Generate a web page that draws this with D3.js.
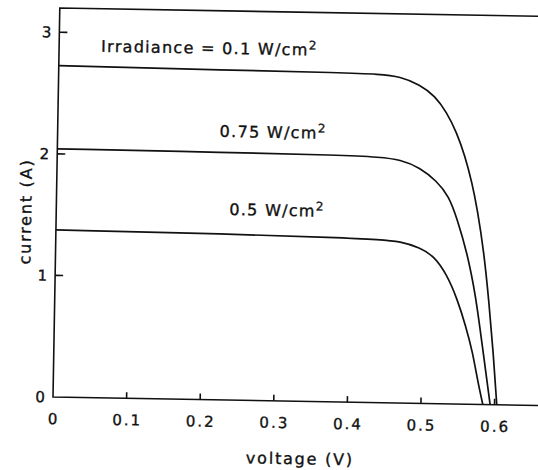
<!DOCTYPE html>
<html>
<head>
<meta charset="utf-8">
<script src="https://cdn.jsdelivr.net/npm/d3@7"></script>
<style>
  html, body { margin: 0; padding: 0; background: #fff; }
  svg text { font-family: "DejaVu Sans", sans-serif; fill: #111; stroke: #111; stroke-width: 0.35px; }
</style>
</head>
<body>
<svg id="chart" width="538" height="470"></svg>
<script>
// I-V curves for three irradiance levels
const voltsHigh = [0, 0.232, 0.385, 0.436, 0.464, 0.491, 0.512, 0.528, 0.542, 0.554, 0.564, 0.572, 0.582, 0.590, 0.597, 0.603];
const ampsHigh = [2.726, 2.713, 2.708, 2.701, 2.685, 2.621, 2.530, 2.398, 2.235, 2.041, 1.826, 1.605, 1.252, 0.842, 0.431, 0];

const voltsMid = [0, 0.234, 0.384, 0.439, 0.466, 0.493, 0.516, 0.533, 0.545, 0.559, 0.572, 0.582, 0.594];
const ampsMid = [2.041, 2.036, 2.030, 2.019, 2.002, 1.939, 1.831, 1.710, 1.519, 1.250, 0.891, 0.481, 0];

const voltsLow = [0, 0.237, 0.384, 0.441, 0.468, 0.495, 0.514, 0.532, 0.547, 0.559, 0.569, 0.576, 0.584];
const ampsLow = [1.374, 1.366, 1.352, 1.341, 1.329, 1.281, 1.214, 1.065, 0.861, 0.643, 0.428, 0.207, 0];

const seriesNames = ["Irradiance = 0.1 W/cm", "0.75 W/cm", "0.5 W/cm"];

// tick labels
const xTicks = [0, 0.1, 0.2, 0.3, 0.4, 0.5, 0.6];
const yTicks = [0, 1, 2, 3];

const series = [
  { name: seriesNames[0], v: voltsHigh, i: ampsHigh, lx: 95, ly: 51 },
  { name: seriesNames[1], v: voltsMid, i: ampsMid, lx: 215, ly: 134 },
  { name: seriesNames[2], v: voltsLow, i: ampsLow, lx: 226, ly: 212 },
];

const svg = d3.select("#chart");

// origin of the plot in pixels; the scan is turned ~1 degree clockwise
const ox = 53, oy = 397;
const root = svg.append("g").attr("transform", `rotate(1.0, ${ox}, ${oy})`);

const xScale = d3.scaleLinear().domain([0, 0.68]).range([ox, ox + 0.68 * 736]);
const yScale = d3.scaleLinear().domain([0, 3.2]).range([oy, oy - 3.2 * 121.6]);

const frame = root.append("g").attr("stroke", "#111").attr("stroke-width", 1.6).attr("fill", "none");

// left, bottom and top frame lines
frame.append("path")
  .attr("d", `M${xScale(0.68)},${yScale(3.2)}H${xScale(0)}V${yScale(0)}H${xScale(0.68)}`);

// x ticks (inward)
frame.selectAll(".xt")
  .data(xTicks.filter((d) => d > 0))
  .enter()
  .append("line")
  .attr("x1", (d) => xScale(d))
  .attr("x2", (d) => xScale(d))
  .attr("y1", yScale(0))
  .attr("y2", yScale(0) - 6);

// y ticks (inward)
frame.selectAll(".yt")
  .data(yTicks.filter((d) => d > 0))
  .enter()
  .append("line")
  .attr("x1", xScale(0))
  .attr("x2", xScale(0) + 8)
  .attr("y1", (d) => yScale(d))
  .attr("y2", (d) => yScale(d));

// tick labels
root.selectAll(".xl")
  .data(xTicks)
  .enter()
  .append("text")
  .attr("x", (d) => xScale(d) + 1)
  .attr("y", yScale(0) + 27)
  .attr("text-anchor", "middle")
  .style("font-size", "15px")
  .style("letter-spacing", "2px")
  .text((d) => (d === 0 ? "0" : d3.format(".1f")(d)));

root.selectAll(".yl")
  .data(yTicks)
  .enter()
  .append("text")
  .attr("x", xScale(0) - 8)
  .attr("y", (d) => yScale(d))
  .attr("dy", "0.36em")
  .attr("text-anchor", "end")
  .style("font-size", "15px")
  .text((d) => d);

// axis titles
root.append("text")
  .attr("x", 301)
  .attr("y", 460)
  .attr("text-anchor", "middle")
  .style("font-size", "16px")
  .style("letter-spacing", "1.8px")
  .text("voltage (V)");

root.append("text")
  .attr("transform", "translate(28,212) rotate(-90)")
  .attr("text-anchor", "middle")
  .style("font-size", "16px")
  .style("letter-spacing", "1.8px")
  .text("current (A)");

// curves
const line = d3.line()
  .x((d) => xScale(d[0]))
  .y((d) => yScale(d[1]))
  .curve(d3.curveBasis);

root.selectAll(".curve")
  .data(series)
  .enter()
  .append("path")
  .attr("class", "curve")
  .attr("fill", "none")
  .attr("stroke", "#111")
  .attr("stroke-width", 1.7)
  .attr("d", (s) => line(s.v.map((v, k) => [v, s.i[k]])));

// curve labels with superscript 2
const labels = root.selectAll(".lab")
  .data(series)
  .enter()
  .append("text")
  .attr("x", (s) => s.lx)
  .attr("y", (s) => s.ly)
  .style("font-size", "16px")
  .style("letter-spacing", "1.3px");

labels.append("tspan").text((s) => s.name);
labels.append("tspan")
  .attr("dy", -6)
  .style("font-size", "12px")
  .text("2");
</script>
</body>
</html>
